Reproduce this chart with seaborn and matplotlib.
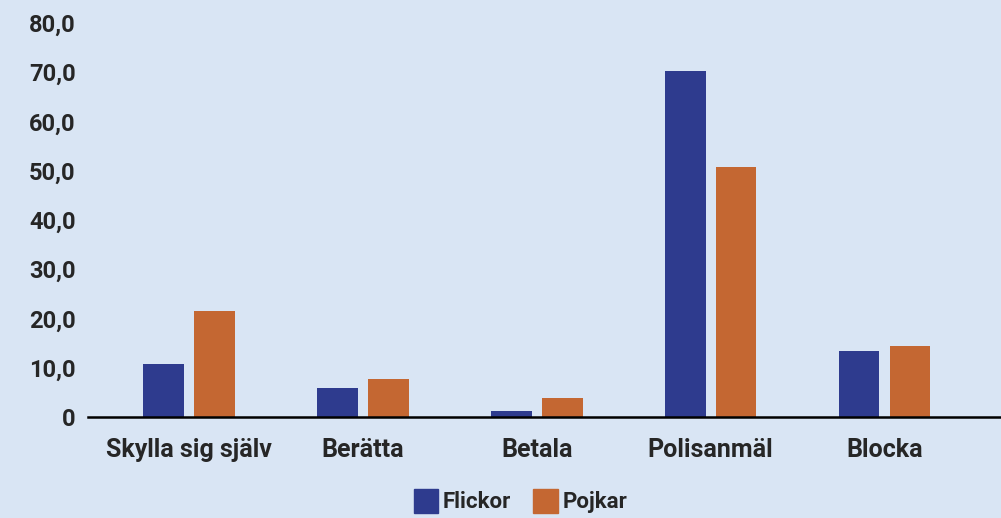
import matplotlib
matplotlib.use("Agg")
import matplotlib.pyplot as plt
import seaborn as sns
import pandas as pd

categories = ["Skylla sig själv", "Berätta", "Betala", "Polisanmäl", "Blocka"]
flickor = [10.8, 5.9, 1.2, 70.2, 13.4]
pojkar = [21.5, 7.7, 3.9, 50.7, 14.4]
groups = ["Flickor", "Pojkar"]
yticks = [0, 10, 20, 30, 40, 50, 60, 70, 80]
ytick_labels = ["0", "10,0", "20,0", "30,0", "40,0", "50,0", "60,0", "70,0", "80,0"]

bg = "#d9e5f4"
palette = {"Flickor": "#2e3b8e", "Pojkar": "#c46732"}

df = pd.DataFrame({
    "kategori": categories * 2,
    "grupp": [groups[0]] * len(categories) + [groups[1]] * len(categories),
    "andel": flickor + pojkar,
})

sns.set_theme(style="white")
plt.rcParams["font.family"] = ["Roboto", "DejaVu Sans"]

fig = plt.figure(figsize=(10.01, 5.18), dpi=100, facecolor=bg)
ax = fig.add_axes([0.088, 0.195, 0.912, 0.7606])
ax.set_facecolor(bg)

sns.barplot(data=df, x="kategori", y="andel", hue="grupp", order=categories,
            hue_order=groups, palette=palette, width=0.586, gap=0.2,
            saturation=1, linewidth=0, ax=ax, legend=False)

ax.set_xlim(-0.58, 4.67)
ax.set_ylim(0, 80)
ax.set_yticks(yticks)
ax.set_yticklabels(ytick_labels, fontsize=17, fontweight="bold")
ax.tick_params(axis="x", labelsize=18, pad=15, length=0)
ax.tick_params(axis="y", length=0, pad=9)
for t in ax.get_xticklabels():
    t.set_fontweight("bold")
ax.set_xlabel("")
ax.set_ylabel("")
for s in ["top", "right", "left"]:
    ax.spines[s].set_visible(False)
ax.spines["bottom"].set_color("black")
ax.spines["bottom"].set_linewidth(1.8)

handles = [plt.Rectangle((0, 0), 1, 1, color=palette[g]) for g in groups]
fig.legend(handles, groups, loc="upper center", bbox_to_anchor=(0.52, 0.095),
           ncol=2, frameon=False, handlelength=1.1, handleheight=1.3,
           handletextpad=0.2, columnspacing=1.0,
           prop={"size": 16, "weight": "bold"})

fig.savefig("out.png", dpi=100, facecolor=bg)
